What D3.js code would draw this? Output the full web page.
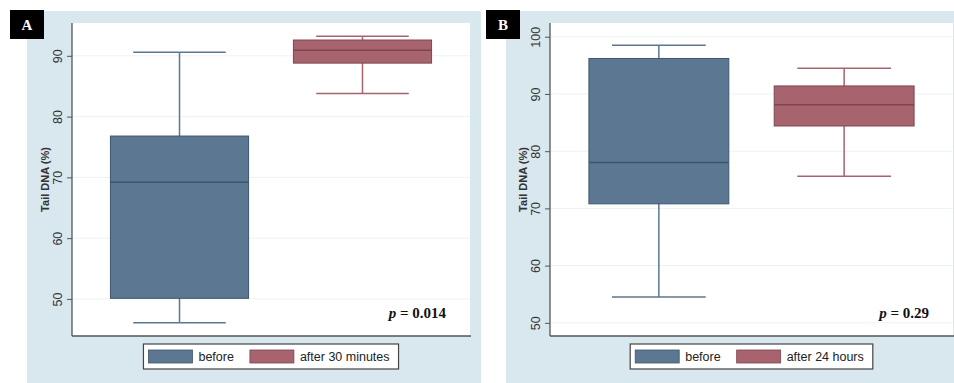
<!DOCTYPE html>
<html>
<head>
<meta charset="utf-8">
<script src="https://cdn.jsdelivr.net/npm/d3@7"></script>
<style>
  body { margin: 0; background: #fff; }
  svg { display: block; }
</style>
</head>
<body>
<div id="root"></div>
<script>
// panel A: before vs after 30 minutes
var categoriesA = ["before", "after 30 minutes"];
var lowA = [46.1, 83.8];
var q1A = [50.1, 88.8];
var medianA = [69.2, 90.9];
var q3A = [76.8, 92.6];
var highA = [90.6, 93.2];
var ticksA = [50, 60, 70, 80, 90];

// panel B: before vs after 24 hours
var categoriesB = ["before", "after 24 hours"];
var lowB = [54.5, 75.6];
var q1B = [70.8, 84.4];
var medianB = [78.0, 88.1];
var q3B = [96.2, 91.4];
var highB = [98.5, 94.5];
var ticksB = [50, 60, 70, 80, 90, 100];

var panelLetters = ["A", "B"];
var pValues = ["0.014", "0.29"];

var fills = ["#5b7791", "#a7646e"];
var strokes = ["#3e566c", "#7c4650"];

var svg = d3.select("#root").append("svg")
    .attr("width", 954)
    .attr("height", 383);

function toRows(cats, low, q1, med, q3, high) {
    return cats.map(function (c, i) {
        return {name: c, low: low[i], q1: q1[i], med: med[i], q3: q3[i], high: high[i], i: i};
    });
}

var panels = [
    {letter: panelLetters[0], rows: toRows(categoriesA, lowA, q1A, medianA, q3A, highA),
     ticks: ticksA, domain: [43.9, 95.4], p: pValues[0],
     bg: [27, 481], tag: 10, plot: [72, 470]},
    {letter: panelLetters[1], rows: toRows(categoriesB, lowB, q1B, medianB, q3B, highB),
     ticks: ticksB, domain: [47.7, 102.4], p: pValues[1],
     bg: [506, 954], tag: 486, plot: [550, 953]}
];

var plotTop = 23, plotBottom = 336;

panels.forEach(function (pn) {
    var g = svg.append("g");

    //light blue graph region
    g.append("rect")
        .attr("x", pn.bg[0]).attr("y", 11)
        .attr("width", pn.bg[1] - pn.bg[0]).attr("height", 383 - 11)
        .attr("fill", "#d9e7ee");

    //white plot region
    g.append("rect")
        .attr("x", pn.plot[0]).attr("y", plotTop)
        .attr("width", pn.plot[1] - pn.plot[0]).attr("height", plotBottom - plotTop)
        .attr("fill", "#fff");

    var y = d3.scaleLinear().domain(pn.domain).range([plotBottom, plotTop]);
    var x = d3.scaleBand()
        .domain(pn.rows.map(function (d) { return d.name; }))
        .range(pn.plot)
        .paddingInner(0.245)
        .paddingOuter(0.21);

    //grid lines
    g.selectAll(".grid")
        .data(pn.ticks)
        .enter().append("line")
        .attr("x1", pn.plot[0]).attr("x2", pn.plot[1])
        .attr("y1", function (d) { return y(d); })
        .attr("y2", function (d) { return y(d); })
        .attr("stroke", "#eef1f2")
        .attr("stroke-width", 1);

    //y axis with rotated labels
    var yAxis = d3.axisLeft(y).tickValues(pn.ticks).tickSize(5).tickPadding(9);
    var gy = g.append("g")
        .attr("transform", "translate(" + pn.plot[0] + ",0)")
        .call(yAxis);
    gy.select(".domain").remove();
    gy.selectAll(".tick line").attr("stroke", "#555");
    gy.selectAll(".tick text")
        .attr("x", 0).attr("dy", null).attr("y", 0)
        .attr("transform", "translate(-10,0) rotate(-90)")
        .attr("text-anchor", "middle")
        .attr("fill", "#333")
        .style("font-family", "Liberation Sans, Arial, sans-serif")
        .style("font-size", "12.5px");

    //axis lines
    g.append("line")
        .attr("x1", pn.plot[0]).attr("x2", pn.plot[0])
        .attr("y1", plotTop).attr("y2", plotBottom)
        .attr("stroke", "#555").attr("stroke-width", 1.3);
    g.append("line")
        .attr("x1", pn.plot[0]).attr("x2", pn.plot[1] + 1)
        .attr("y1", plotBottom).attr("y2", plotBottom)
        .attr("stroke", "#555").attr("stroke-width", 1.5);

    //y title
    g.append("text")
        .attr("transform", "translate(" + (pn.plot[0] - 23) + "," + ((plotTop + plotBottom) / 2) + ") rotate(-90)")
        .attr("text-anchor", "middle")
        .attr("fill", "#333")
        .style("font-family", "Liberation Sans, Arial, sans-serif")
        .style("font-size", "11px")
        .style("font-weight", "bold")
        .text("Tail DNA (%)");

    //boxes
    var boxes = g.selectAll(".box")
        .data(pn.rows)
        .enter().append("g");

    var bw = x.bandwidth();
    var cap = bw * 0.67;

    boxes.append("line")
        .attr("x1", function (d) { return x(d.name) + bw / 2; })
        .attr("x2", function (d) { return x(d.name) + bw / 2; })
        .attr("y1", function (d) { return y(d.high); })
        .attr("y2", function (d) { return y(d.low); })
        .attr("stroke", function (d) { return fills[d.i]; })
        .attr("stroke-width", 1.5);

    boxes.selectAll(".cap")
        .data(function (d) { return [{v: d.high, d: d}, {v: d.low, d: d}]; })
        .enter().append("line")
        .attr("x1", function (c) { return x(c.d.name) + (bw - cap) / 2; })
        .attr("x2", function (c) { return x(c.d.name) + (bw + cap) / 2; })
        .attr("y1", function (c) { return y(c.v); })
        .attr("y2", function (c) { return y(c.v); })
        .attr("stroke", function (c) { return fills[c.d.i]; })
        .attr("stroke-width", 1.5);

    boxes.append("rect")
        .attr("x", function (d) { return x(d.name); })
        .attr("y", function (d) { return y(d.q3); })
        .attr("width", bw)
        .attr("height", function (d) { return y(d.q1) - y(d.q3); })
        .attr("fill", function (d) { return fills[d.i]; })
        .attr("stroke", function (d) { return strokes[d.i]; })
        .attr("stroke-width", 1);

    boxes.append("line")
        .attr("x1", function (d) { return x(d.name); })
        .attr("x2", function (d) { return x(d.name) + bw; })
        .attr("y1", function (d) { return y(d.med); })
        .attr("y2", function (d) { return y(d.med); })
        .attr("stroke", function (d) { return strokes[d.i]; })
        .attr("stroke-width", 1.5);

    //p value
    var pt = g.append("text")
        .attr("x", pn.plot[1] - 24)
        .attr("y", 318)
        .attr("text-anchor", "end")
        .attr("fill", "#111")
        .style("font-family", "Liberation Serif, Times New Roman, serif")
        .style("font-size", "15px")
        .style("font-weight", "bold");
    pt.append("tspan").style("font-style", "italic").text("p");
    pt.append("tspan").text(" = " + pn.p);

    //legend
    var lg = g.append("g");
    var frame = lg.append("rect")
        .attr("y", 344).attr("height", 25)
        .attr("fill", "#fff")
        .attr("stroke", "#444").attr("stroke-width", 1.2);
    var cx = 5;
    pn.rows.forEach(function (d, i) {
        lg.append("rect")
            .attr("x", cx).attr("y", 350)
            .attr("width", 44).attr("height", 13)
            .attr("fill", fills[i])
            .attr("stroke", strokes[i]).attr("stroke-width", 0.8);
        var t = lg.append("text")
            .attr("x", cx + 50).attr("y", 361)
            .attr("fill", "#222")
            .style("font-family", "Liberation Sans, Arial, sans-serif")
            .style("font-size", "12.5px")
            .text(d.name);
        cx += 50 + t.node().getComputedTextLength() + 16;
    });
    var lw = cx - 16 + 9;
    frame.attr("x", 0).attr("width", lw);
    var mid = (pn.plot[0] + pn.plot[1]) / 2;
    lg.attr("transform", "translate(" + (mid - lw / 2) + ",0)");

    //panel letter tag
    g.append("rect")
        .attr("x", pn.tag).attr("y", 10)
        .attr("width", 34).attr("height", 29)
        .attr("fill", "#000");
    g.append("text")
        .attr("x", pn.tag + 17).attr("y", 30)
        .attr("text-anchor", "middle")
        .attr("fill", "#fff")
        .style("font-family", "Liberation Serif, Times New Roman, serif")
        .style("font-size", "15px")
        .style("font-weight", "bold")
        .text(pn.letter);
});
</script>
</body>
</html>
